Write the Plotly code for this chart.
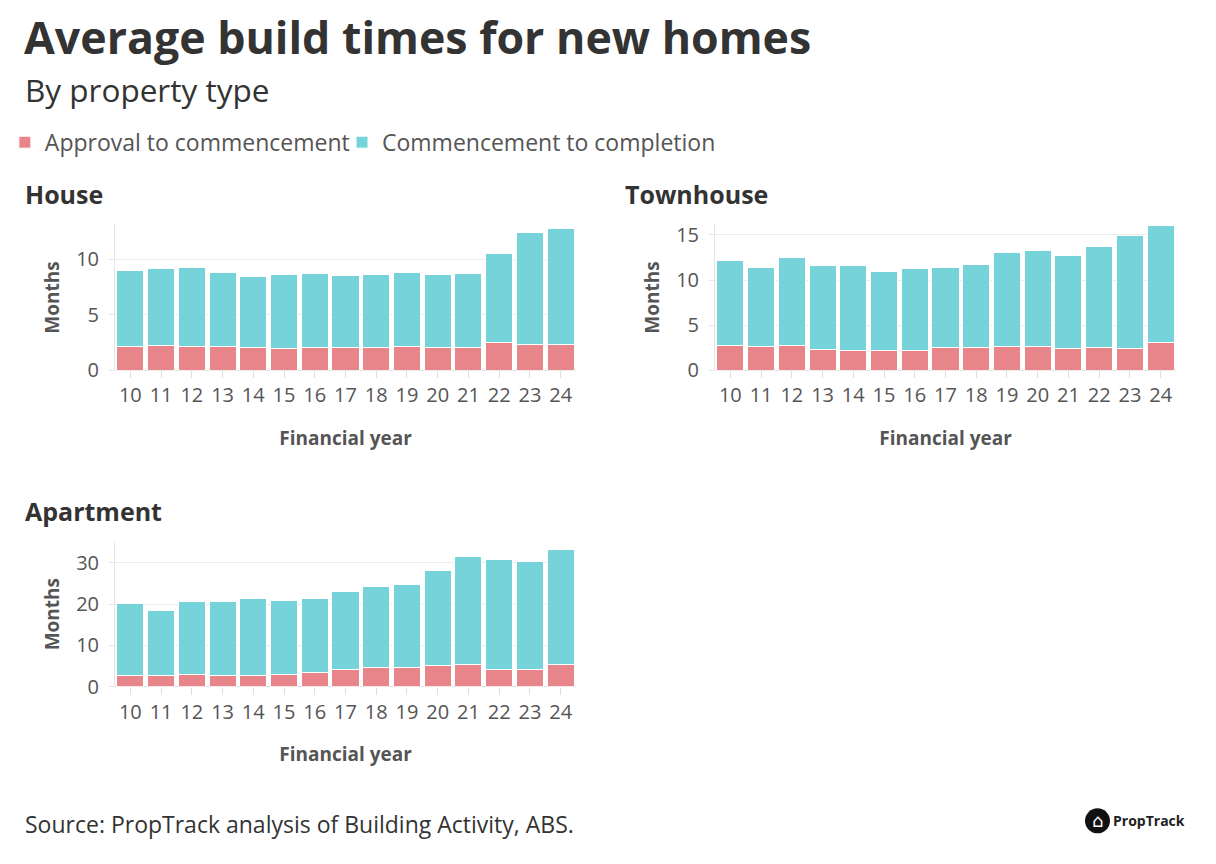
import plotly.graph_objects as go

years = ["10", "11", "12", "13", "14", "15", "16", "17", "18", "19", "20", "21", "22", "23", "24"]

# House (months)
house_approval = [2.19, 2.28, 2.16, 2.13, 2.04, 1.98, 2.07, 2.10, 2.04, 2.13, 2.04, 2.04, 2.55, 2.31, 2.31]
house_total = [8.98, 9.13, 9.22, 8.77, 8.47, 8.59, 8.71, 8.56, 8.65, 8.83, 8.62, 8.68, 10.51, 12.40, 12.73]

# Townhouse (months)
town_approval = [2.80, 2.62, 2.73, 2.32, 2.25, 2.17, 2.21, 2.51, 2.51, 2.69, 2.62, 2.40, 2.54, 2.40, 3.10]
town_total = [12.16, 11.39, 12.46, 11.61, 11.65, 10.95, 11.28, 11.39, 11.76, 13.09, 13.27, 12.75, 13.67, 14.93, 16.03]

# Apartment (months)
apt_approval = [2.58, 2.74, 2.90, 2.74, 2.74, 2.82, 3.39, 4.11, 4.68, 4.52, 5.00, 5.32, 4.19, 4.19, 5.40]
apt_total = [20.08, 18.47, 20.56, 20.65, 21.37, 20.97, 21.37, 23.06, 24.19, 24.68, 28.15, 31.61, 30.73, 30.24, 33.23]

series_names = ["Approval to commencement", "Commencement to completion"]
RED = "#e8858b"
TEAL = "#76d3da"

W, H = 1216, 864
FONT = "Open Sans"
DARK = "#333333"
GREY = "#555555"

def px_x(p):
    return p / W

def px_y(p):
    # target pixel row -> paper fraction (compensates the capture's slight vertical squeeze)
    d = (p - 2.7) / 0.982
    return 1 - d / H

fig = go.Figure()

panels = [
    ("x", "y", house_approval, house_total),
    ("x2", "y2", town_approval, town_total),
    ("x3", "y3", apt_approval, apt_total),
]

for i, (xa, ya, appr, tot) in enumerate(panels):
    comp = [round(t - a, 2) for t, a in zip(tot, appr)]
    fig.add_trace(go.Bar(
        x=years, y=appr, name=series_names[0], xaxis=xa, yaxis=ya,
        marker=dict(color=RED, line=dict(color="white", width=1)),
        showlegend=(i == 0), legendgroup="a", legend="legend",
    ))
    fig.add_trace(go.Bar(
        x=years, y=comp, name=series_names[1], xaxis=xa, yaxis=ya,
        marker=dict(color=TEAL, line=dict(color="white", width=1)),
        showlegend=(i == 0), legendgroup="b", legend="legend2",
    ))

def xaxis_style(domain, anchor):
    return dict(
        domain=domain, anchor=anchor, type="category",
        showgrid=False, zeroline=False,
        showline=False,
        ticks="outside", ticklen=7, tickcolor="#dddddd",
        tickfont=dict(family=FONT, size=20, color=GREY),
        title=dict(text="<b>Financial year</b>", font=dict(family=FONT, size=19, color=GREY), standoff=24),
        fixedrange=True,
    )

def yaxis_style(domain, anchor, rng, dtick):
    return dict(
        domain=domain, anchor=anchor, range=rng, dtick=dtick,
        showgrid=True, gridcolor="#ebebeb", gridwidth=1,
        zeroline=True, zerolinecolor="#dddddd", zerolinewidth=1,
        showline=True, linecolor="#e6e6e6", linewidth=1,
        ticks="outside", ticklen=5, tickcolor="#e6e6e6",
        ticklabelstandoff=6,
        tickfont=dict(family=FONT, size=20, color=GREY),
        title=dict(text="<b>Months</b>", font=dict(family=FONT, size=19, color=GREY), standoff=11),
        fixedrange=True,
    )

left_dom = [px_x(115), px_x(576)]
right_dom = [px_x(715), px_x(1176)]
top_dom = [px_y(370.3), px_y(224.3)]
bot_dom = [px_y(686.7), px_y(541.7)]

legend_common = dict(
    orientation="h", xanchor="left", yanchor="middle",
    font=dict(family=FONT, size=23, color=GREY),
    itemwidth=30, bgcolor="rgba(0,0,0,0)",
)

fig.update_layout(
    width=W, height=H,
    margin=dict(l=0, r=0, t=0, b=0),
    paper_bgcolor="white", plot_bgcolor="white",
    barmode="stack", bargap=0.12,
    font=dict(family=FONT, color=DARK),
    xaxis=xaxis_style(left_dom, "y"),
    yaxis=yaxis_style(top_dom, "x", [0, 13.1], 5),
    xaxis2=xaxis_style(right_dom, "y2"),
    yaxis2=yaxis_style(top_dom, "x2", [0, 16.15], 5),
    xaxis3=xaxis_style(left_dom, "y3"),
    yaxis3=yaxis_style(bot_dom, "x3", [0, 35.1], 10),
    legend=dict(x=0.004, y=px_y(142), **legend_common),
    legend2=dict(x=px_x(342), y=px_y(142), **legend_common),
    showlegend=True,
)

annotations = [
    dict(text="<b>Average build times for new homes</b>", x=px_x(22), y=px_y(36),
         font=dict(family=FONT, size=44.7, color=DARK)),
    dict(text="By property type", x=px_x(23), y=px_y(89),
         font=dict(family=FONT, size=31.5, color=DARK)),
    dict(text="<b>House</b>", x=px_x(23), y=px_y(194),
         font=dict(family=FONT, size=25, color=DARK)),
    dict(text="<b>Townhouse</b>", x=px_x(623), y=px_y(194),
         font=dict(family=FONT, size=25, color=DARK)),
    dict(text="<b>Apartment</b>", x=px_x(23), y=px_y(511),
         font=dict(family=FONT, size=25, color=DARK)),
    dict(text="Source: PropTrack analysis of Building Activity, ABS.", x=px_x(23), y=px_y(824),
         font=dict(family=FONT, size=23, color=DARK)),
    dict(text="<b>PropTrack</b>", x=px_x(1111), y=px_y(821),
         font=dict(family=FONT, size=14, color="#222222")),
    dict(text="⌂", x=px_x(1097.5), y=px_y(821), xanchor="center",
         font=dict(family="DejaVu Sans", size=18, color="white")),
]
for a in annotations:
    a.setdefault("xanchor", "left")
    a.update(xref="paper", yref="paper", yanchor="middle", showarrow=False)
fig.update_layout(annotations=annotations)

fig.add_shape(type="circle", xref="paper", yref="paper",
              x0=px_x(1085), x1=px_x(1110), y0=px_y(833.5), y1=px_y(808.5),
              fillcolor="#111111", line=dict(width=0))

post = (
    "document.documentElement.style.margin='0px';"
    "document.documentElement.style.overflow='hidden';"
    "document.body.style.margin='0px';"
    "document.body.style.overflow='hidden';"
)
fig.write_html("out.html", config={"displayModeBar": False}, post_script=post)
